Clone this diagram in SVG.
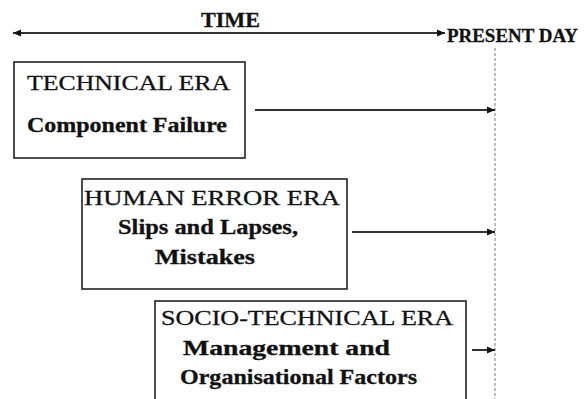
<svg xmlns="http://www.w3.org/2000/svg" width="588" height="399" viewBox="0 0 588 399">
<style>
.box{fill:#fff;stroke:#222;stroke-width:1.6}
text{font-family:'Liberation Serif','DejaVu Serif','Times New Roman',serif;fill:#111;stroke:#111;stroke-width:0.3}
.r{font-weight:normal;font-size:22px}
.b{font-weight:bold;font-size:21px}
.conn{stroke:#333;stroke-width:2;fill:none}
</style>
<defs>
<marker id="ah" markerUnits="userSpaceOnUse" markerWidth="9" markerHeight="8" refX="8" refY="4" orient="auto-start-reverse">
<path d="M0,0.5 L8,4 L0,7.5 Z" fill="#111"/>
</marker>
</defs>
<rect width="588" height="399" fill="#fff"/>
<g id="connectors">
<line class="conn" x1="13" y1="33" x2="445" y2="33" marker-start="url(#ah)" marker-end="url(#ah)"/>
<line x1="495" y1="48" x2="495" y2="399" stroke="#999" stroke-width="1.3" stroke-dasharray="3 2"/>
<line class="conn" x1="255" y1="110" x2="495" y2="110" marker-end="url(#ah)"/>
<line class="conn" x1="352" y1="232" x2="495" y2="232" marker-end="url(#ah)"/>
<line class="conn" x1="472" y1="350" x2="495" y2="350" marker-end="url(#ah)"/>
</g>
<g id="time-label">
<text class="b" x="201" y="27" textLength="59" lengthAdjust="spacingAndGlyphs">TIME</text>
</g>
<g id="present-day">
<text class="b" style="font-size:19px" x="447" y="42" textLength="131" lengthAdjust="spacingAndGlyphs">PRESENT DAY</text>
</g>
<g id="technical-era">
<rect class="box" x="14" y="62" width="231" height="96"/>
<text class="r" x="27" y="90" textLength="203" lengthAdjust="spacingAndGlyphs">TECHNICAL ERA</text>
<text class="b" x="27" y="132" textLength="200" lengthAdjust="spacingAndGlyphs">Component Failure</text>
</g>
<g id="human-error-era">
<rect class="box" x="82" y="179" width="265" height="110"/>
<text class="r" x="84" y="205" textLength="256" lengthAdjust="spacingAndGlyphs">HUMAN ERROR ERA</text>
<text class="b" x="118" y="234" textLength="180" lengthAdjust="spacingAndGlyphs">Slips and Lapses,</text>
<text class="b" x="155" y="264" textLength="100" lengthAdjust="spacingAndGlyphs">Mistakes</text>
</g>
<g id="socio-technical-era">
<rect class="box" x="155" y="301" width="311" height="110"/>
<text class="r" x="161" y="325" textLength="292" lengthAdjust="spacingAndGlyphs">SOCIO-TECHNICAL ERA</text>
<text class="b" x="183" y="355" textLength="207" lengthAdjust="spacingAndGlyphs">Management and</text>
<text class="b" x="180" y="384" textLength="237" lengthAdjust="spacingAndGlyphs">Organisational Factors</text>
</g>
</svg>
